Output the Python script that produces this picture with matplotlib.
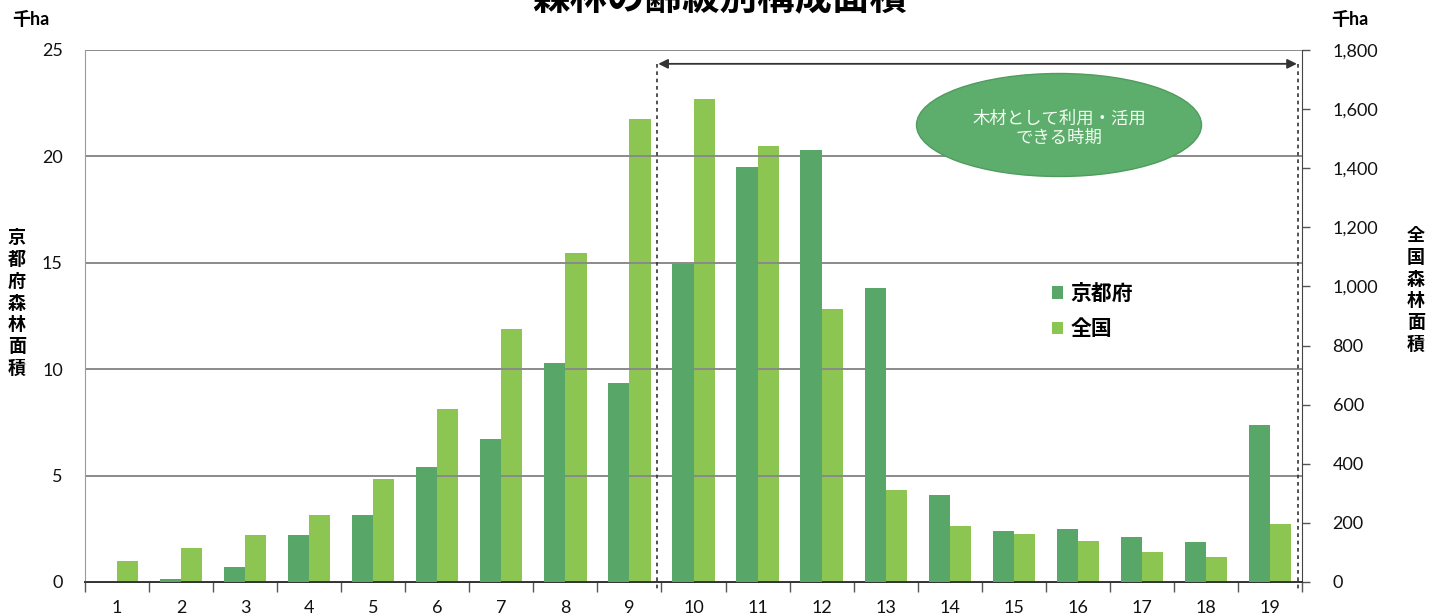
import matplotlib
matplotlib.use("Agg")
import matplotlib.pyplot as plt
from matplotlib.patches import Ellipse, Patch
from matplotlib.ticker import FuncFormatter, MultipleLocator
from matplotlib.transforms import blended_transform_factory

plt.rcParams['font.family'] = ['Lato', 'Noto Sans CJK JP', 'DejaVu Sans']

# 齢級 (age classes)
age_classes = list(range(1, 20))
# 京都府の森林面積 (千ha, left axis)
kyoto = [0, 0.15, 0.7, 2.2, 3.15, 5.4, 6.7, 10.3, 9.35, 14.95,
         19.5, 20.3, 13.8, 4.1, 2.4, 2.5, 2.1, 1.9, 7.4]
# 全国の森林面積 (千ha, right axis)
national = [70, 115, 160, 228, 347, 587, 855, 1112, 1567, 1635,
            1476, 923, 312, 190, 164, 139, 102, 86, 195]

series_names = ['京都府', '全国']
title = '森林の齢級別構成面積'
left_label = '京都府森林面積'
right_label = '全国森林面積'
unit = '千ha'
note = '木材として利用・活用\nできる時期'

c_dark = '#58a668'
c_light = '#8cc552'
grid_c = '#8a8a8a'

W, H = 1439, 614
fig = plt.figure(figsize=(W / 100, H / 100), dpi=100)
ax = fig.add_axes([85 / W, 1 - 582 / H, (1302 - 85) / W, (582 - 50) / H])
ax2 = ax.twinx()

bw = 0.33
ax.bar([x - bw / 2 for x in age_classes], kyoto, width=bw, color=c_dark, zorder=3)
ax2.bar([x + bw / 2 for x in age_classes], national, width=bw, color=c_light, zorder=3)

ax.set_xlim(0.5, 19.5)
ax.set_ylim(0, 25)
ax2.set_ylim(0, 1800)

ax.yaxis.set_major_locator(MultipleLocator(5))
ax2.yaxis.set_major_locator(MultipleLocator(200))
ax2.yaxis.set_major_formatter(FuncFormatter(lambda v, p: f'{int(v):,}'))

ax.set_xticks(age_classes)
ax.set_xticklabels([str(a) for a in age_classes])
ax.set_xticks([a + 0.5 for a in range(0, 20)], minor=True)
ax.tick_params(axis='x', which='major', length=0, pad=13, labelsize=13, colors='#111111')
ax.tick_params(axis='x', which='minor', length=7, width=1, color='#555555', direction='out')
ax.tick_params(axis='y', length=0, pad=16, labelsize=13, colors='#111111')
ax2.tick_params(axis='y', length=6, width=1, color='#555555', pad=16, labelsize=13,
                labelcolor='#111111')

ax.grid(axis='y', color=grid_c, linewidth=1.4, zorder=0)
ax.set_axisbelow(True)
for a in (ax, ax2):
    a.spines['top'].set_visible(False)
    a.spines['left'].set_color('#9a9a9a')
    a.spines['right'].set_color('#444444')
    a.spines['bottom'].set_color('#333333')
    a.spines['bottom'].set_linewidth(1.3)
ax2.spines['left'].set_visible(False)
ax.spines['right'].set_visible(False)
ax.set_zorder(ax2.get_zorder() + 1)
ax.patch.set_visible(False)

# Period when timber can be harvested: dashed bounds and double arrow
tr = blended_transform_factory(ax.transData, ax.transAxes)
for xv in (9.43, 19.44):
    ax.plot([xv, xv], [0.974, -0.015], transform=tr, color='#333333', lw=1.2,
            ls=(0, (2.2, 2.2)), clip_on=False, zorder=5)
ax.annotate('', xy=(9.45, 0.974), xytext=(19.42, 0.974), xycoords=tr, textcoords=tr,
            arrowprops=dict(arrowstyle='<|-|>', color='#333333', lw=1.3,
                            mutation_scale=14, shrinkA=0, shrinkB=0), zorder=5)

ell = Ellipse((1059 / W, 1 - 125 / H), 285 / W, 103 / H, transform=fig.transFigure,
              facecolor='#5dae6c', edgecolor='#4f9c5e', lw=1, zorder=6)
fig.add_artist(ell)
fig.text(1059 / W, 1 - 128 / H, note, ha='center', va='center', color='#f4fbf2',
         fontsize=12.5, linespacing=1.25, zorder=7)

# Legend
handles = [Patch(facecolor=c_dark), Patch(facecolor=c_light)]
fig.legend(handles, series_names, loc='upper left', bbox_to_anchor=(1033 / W, 1 - 265 / H),
           frameon=False, handlelength=0.55, handleheight=0.55, handletextpad=0.35,
           labelspacing=0.75, prop={'weight': 'bold', 'size': 15})

# Titles and axis labels
fig.text(0.5, 1 - 9 / H, title, ha='center', va='baseline', fontsize=27, fontweight='bold')
fig.text(31 / W, 1 - 19 / H, unit, ha='center', va='center', fontsize=13, fontweight='bold')
fig.text(1350 / W, 1 - 19 / H, unit, ha='center', va='center', fontsize=13, fontweight='bold')
fig.text(17 / W, 1 - 303 / H, '\n'.join(left_label), ha='center', va='center',
         fontsize=13, fontweight='bold', linespacing=1.33)
fig.text(1416 / W, 1 - 290 / H, '\n'.join(right_label), ha='center', va='center',
         fontsize=13, fontweight='bold', linespacing=1.33)

fig.savefig('out.png', dpi=100)
